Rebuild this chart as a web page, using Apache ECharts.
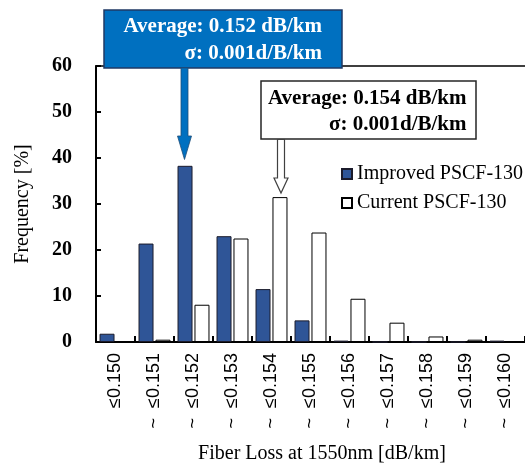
<!DOCTYPE html>
<html><head><meta charset="utf-8">
<script src="https://cdn.jsdelivr.net/npm/echarts@6/dist/echarts.min.js"></script>
<style>html,body{margin:0;padding:0;background:#fff}#c{width:525px;height:467px}</style>
</head><body><div id="c"></div>
<script>
const categories = ['≤0.150','~  ≤0.151','~  ≤0.152','~  ≤0.153','~  ≤0.154','~  ≤0.155','~  ≤0.156','~  ≤0.157','~  ≤0.158','~  ≤0.159','~  ≤0.160'];
const improved = [1.8, 21.4, 38.3, 23.0, 11.5, 4.7, 0.3, 0, 0, 0, 0.3];
const current  = [0, 0.5, 8.1, 22.5, 31.5, 23.8, 9.4, 4.2, 1.2, 0.5, 0];
const seriesNames = ['Improved PSCF-130', 'Current PSCF-130'];
const yMin = 0, yMax = 60, yStep = 10;
const noteImproved = ['Average: 0.152 dB/km', 'σ: 0.001d/B/km'];
const noteCurrent  = ['Average: 0.154 dB/km', 'σ: 0.001d/B/km'];
const xTitle = 'Fiber Loss at 1550nm [dB/km]';
const yTitle = 'Frequency [%]';

const SERIF = '"Liberation Serif", "Times New Roman", serif';
const chart = echarts.init(document.getElementById('c'), null, {renderer: 'canvas'});
chart.setOption({
  backgroundColor: '#fff',
  animation: false,
  grid: {left: 96, top: 66, right: -3, bottom: 125, show: false},
  legend: {
    orient: 'vertical', left: 336, top: 159, itemWidth: 10, itemHeight: 10, itemGap: 9,
    icon: 'rect', data: seriesNames,
    textStyle: {fontFamily: SERIF, fontSize: 20, color: '#000'}
  },
  xAxis: [{
    type: 'category', data: categories,
    axisLine: {lineStyle: {color: '#000', width: 2}},
    axisTick: {show: true, inside: true, length: 6, lineStyle: {color: '#000', width: 2}},
    axisLabel: {rotate: 90, interval: 0, margin: 11, fontFamily: '"Liberation Sans", Arial, sans-serif', fontSize: 18, color: '#000'},
    splitLine: {show: false}
  }, {
    type: 'category', data: categories, position: 'top',
    axisLine: {show: true, lineStyle: {color: '#000', width: 1.5}},
    axisTick: {show: false}, axisLabel: {show: false}, splitLine: {show: false}
  }],
  yAxis: {
    type: 'value', min: yMin, max: yMax, interval: yStep,
    name: yTitle, nameLocation: 'middle', nameRotate: 90, nameGap: 63,
    nameTextStyle: {fontFamily: SERIF, fontSize: 20, color: '#000'},
    axisLine: {show: true, lineStyle: {color: '#000', width: 2}},
    axisTick: {show: true, inside: true, length: 5, lineStyle: {color: '#000', width: 2}},
    axisLabel: {margin: 24, fontFamily: SERIF, fontWeight: 'bold', fontSize: 20, color: '#000'},
    splitLine: {show: false}
  },
  series: [
    {name: seriesNames[0], type: 'bar', data: improved, barWidth: 15, barGap: '13%',
     itemStyle: {color: '#2F5597', borderColor: '#1b1b2b', borderWidth: 1}},
    {name: seriesNames[1], type: 'bar', data: current, barWidth: 15,
     itemStyle: {color: '#fff', borderColor: '#000', borderWidth: 1}}
  ],
  graphic: [
    {type: 'text', x: 322, y: 454, z: 100,
     style: {text: xTitle, fill: '#000', font: '20px ' + SERIF, textAlign: 'center', textVerticalAlign: 'middle'}},
    {type: 'rect', z: 100, shape: {x: 104, y: 10, width: 238, height: 58},
     style: {fill: '#0070C0', stroke: '#1F3864', lineWidth: 1.5}},
    {type: 'text', x: 322, y: 27, z: 101,
     style: {text: noteImproved[0], fill: '#fff', font: 'bold 21px ' + SERIF, textAlign: 'right', textVerticalAlign: 'middle'}},
    {type: 'text', x: 322, y: 54, z: 101,
     style: {text: noteImproved[1], fill: '#fff', font: 'bold 21px ' + SERIF, textAlign: 'right', textVerticalAlign: 'middle'}},
    {type: 'polygon', z: 100,
     shape: {points: [[181,68],[188,68],[188,136],[191.5,136],[184.5,159.5],[177.5,136],[181,136]]},
     style: {fill: '#0070C0', stroke: '#1F4E79', lineWidth: 0.8}},
    {type: 'rect', z: 100, shape: {x: 261, y: 81, width: 215, height: 58},
     style: {fill: '#fff', stroke: '#262626', lineWidth: 1.5}},
    {type: 'text', x: 466.5, y: 98.5, z: 101,
     style: {text: noteCurrent[0], fill: '#000', font: 'bold 21px ' + SERIF, textAlign: 'right', textVerticalAlign: 'middle'}},
    {type: 'text', x: 466.5, y: 125, z: 101,
     style: {text: noteCurrent[1], fill: '#000', font: 'bold 21px ' + SERIF, textAlign: 'right', textVerticalAlign: 'middle'}},
    {type: 'polygon', z: 100,
     shape: {points: [[277.5,139.5],[284.5,139.5],[284.5,178],[288,178],[281,193],[274,178],[277.5,178]]},
     style: {fill: '#fff', stroke: '#404040', lineWidth: 1.2}}
  ]
});
</script></body></html>
